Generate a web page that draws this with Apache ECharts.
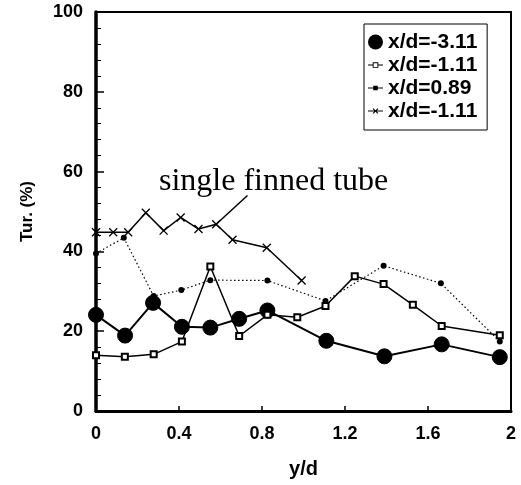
<!DOCTYPE html>
<html>
<head>
<meta charset="utf-8">
<script src="https://cdn.jsdelivr.net/npm/echarts@6/dist/echarts.min.js"></script>
<style>
  html, body { margin: 0; padding: 0; background: #fff; }
  #chart { width: 521px; height: 485px; }
</style>
</head>
<body>
<div id="chart"></div>
<script>
// ---- data ----
const seriesNames = ['x/d=-3.11', 'x/d=-1.11', 'x/d=0.89', 'x/d=-1.11 '];

const xA = [0, 0.14, 0.275, 0.414, 0.551, 0.69, 0.826, 1.11, 1.39, 1.666, 1.946];
const yA = [24.1, 18.9, 27.1, 21.1, 20.9, 23.1, 25.2, 17.6, 13.7, 16.7, 13.5];

const xB = [0, 0.139, 0.278, 0.414, 0.551, 0.69, 0.826, 0.97, 1.106, 1.247, 1.386, 1.527, 1.666, 1.946];
const yB = [14.0, 13.6, 14.2, 17.4, 36.2, 18.8, 24.1, 23.5, 26.3, 33.8, 31.8, 26.6, 21.3, 19.0];

const xC = [0, 0.134, 0.278, 0.411, 0.551, 0.826, 1.106, 1.386, 1.662, 1.946];
const yC = [39.5, 43.4, 28.8, 30.3, 32.8, 32.7, 27.6, 36.4, 32.0, 17.4];

const xD = [0, 0.083, 0.155, 0.24, 0.326, 0.408, 0.494, 0.579, 0.658, 0.823, 0.991];
const yD = [44.8, 44.8, 44.8, 49.7, 45.2, 48.5, 45.6, 46.8, 42.9, 40.9, 32.7];

const xTicks = [0, 0.4, 0.8, 1.2, 1.6, 2];
const yTicks = [0, 20, 40, 60, 80, 100];

const annotationText = 'single finned tube';
const pointerFrom = [0.579, 46.8];
const pointerTo = [0.73, 54.0];

// ---- helpers ----
const pairs = (xs, ys) => xs.map((x, i) => [x, ys[i]]);
const SANS = 'Liberation Sans';

const iconOpenSquare = 'path://M0,6.4H5V4H11V6.4H16V7.6H11V10H5V7.6H0Z M6,5V9H10V5Z';
const iconDot = 'path://M0,6.4H16V7.6H0Z M5.6,4.6H10.4V9.4H5.6Z';
const iconCross = 'path://M0,6.4H16V7.6H0Z M5,4.8L5.8,4L11,9.2L10.2,10Z M10.2,4L11,4.8L5.8,10L5,9.2Z';
const legendItemStyle = { color: '#000', borderWidth: 0 };

const chart = echarts.init(document.getElementById('chart'), null, { renderer: 'canvas' });

chart.setOption({
  animation: false,
  backgroundColor: '#fff',
  grid: {
    left: 96, right: 10, top: 12, bottom: 74,
    show: true, borderColor: '#000', borderWidth: 2, backgroundColor: 'transparent'
  },
  xAxis: {
    type: 'value',
    min: xTicks[0], max: xTicks[xTicks.length - 1], interval: 0.4,
    name: 'y/d', nameLocation: 'middle', nameGap: 48,
    nameTextStyle: { fontFamily: SANS, fontWeight: 'bold', fontSize: 20, color: '#000' },
    axisLine: { show: true, onZero: false, lineStyle: { color: '#000', width: 3 } },
    axisTick: { show: true, inside: true, length: 5, lineStyle: { color: '#000', width: 1.5 } },
    splitLine: { show: false },
    axisLabel: {
      margin: 14, fontFamily: SANS, fontWeight: 'bold', fontSize: 18, color: '#000',
      formatter: v => String(+v.toFixed(1))
    }
  },
  yAxis: {
    type: 'value',
    min: yTicks[0], max: yTicks[yTicks.length - 1], interval: 20,
    name: 'Tur. (%)', nameLocation: 'middle', nameGap: 60, nameRotate: 90,
    nameTextStyle: { fontFamily: SANS, fontWeight: 'bold', fontSize: 17, color: '#000' },
    axisLine: { show: true, onZero: false, lineStyle: { color: '#000', width: 3.5 } },
    axisTick: { show: true, inside: true, length: 8, lineStyle: { color: '#000', width: 1.5 } },
    minorTick: { show: true, splitNumber: 5, length: 5, lineStyle: { color: '#000', width: 1 } },
    splitLine: { show: false },
    axisLabel: { margin: 13, fontFamily: SANS, fontWeight: 'bold', fontSize: 18, color: '#000' }
  },
  legend: {
    orient: 'vertical',
    left: 364, top: 24,
    padding: [7, 4, 8, 4],
    itemGap: 1,
    itemWidth: 15, itemHeight: 16,
    backgroundColor: '#fff', borderColor: '#000', borderWidth: 1, borderRadius: 0,
    selectedMode: false,
    textStyle: { fontFamily: SANS, fontWeight: 'bold', fontSize: 21, lineHeight: 22, color: '#000' },
    data: [
      { name: seriesNames[0], icon: 'circle', itemStyle: legendItemStyle },
      { name: seriesNames[1], icon: iconOpenSquare, itemStyle: legendItemStyle },
      { name: seriesNames[2], icon: iconDot, itemStyle: legendItemStyle },
      { name: seriesNames[3], icon: iconCross, itemStyle: legendItemStyle }
    ]
  },
  graphic: [{
    type: 'text',
    left: 159, top: 166,
    style: {
      text: annotationText,
      fontFamily: 'Liberation Serif', fontSize: 32, fill: '#000'
    }
  }],
  series: [
    {
      name: seriesNames[0], type: 'line',
      data: pairs(xA, yA),
      symbol: 'circle', symbolSize: 15,
      itemStyle: { color: '#000', borderColor: '#000', borderWidth: 1 },
      lineStyle: { color: '#000', width: 2 },
      z: 2
    },
    {
      name: seriesNames[2], type: 'line',
      data: pairs(xC, yC),
      symbol: 'circle', symbolSize: 6,
      itemStyle: { color: '#000', borderWidth: 0 },
      lineStyle: { color: '#000', width: 1.2, type: [1.5, 2.5] },
      z: 3
    },
    {
      name: seriesNames[3], type: 'line',
      data: pairs(xD, yD),
      symbol: 'path://M0,0L10,10M10,0L0,10', symbolSize: 8,
      itemStyle: { color: '#000', borderColor: '#000', borderWidth: 1.3 },
      lineStyle: { color: '#000', width: 1.5 },
      markLine: {
        silent: true, symbol: ['none', 'none'],
        lineStyle: { color: '#000', width: 1.5, type: 'solid' },
        label: { show: false },
        data: [[{ coord: pointerFrom }, { coord: pointerTo }]]
      },
      z: 4
    },
    {
      name: seriesNames[1], type: 'line',
      data: pairs(xB, yB),
      symbol: 'emptyRect', symbolSize: 6,
      itemStyle: { color: '#000', borderColor: '#000', borderWidth: 1.3 },
      lineStyle: { color: '#000', width: 1.5 },
      z: 5
    }
  ]
});
</script>
</body>
</html>
